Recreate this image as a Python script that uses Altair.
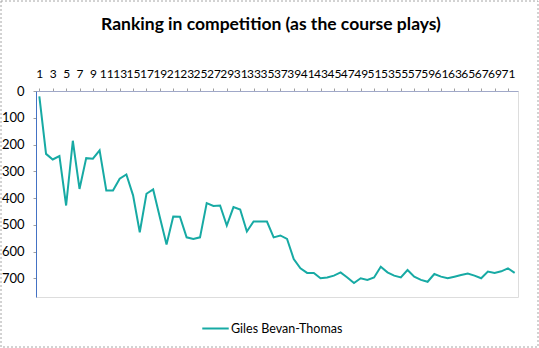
import altair as alt
import pandas as pd

rounds = list(range(1, 73))
ranking = [20, 235, 256, 243, 428, 186, 366, 251, 253, 222,
           372, 372, 328, 312, 390, 528, 384, 368, 472, 574,
           469, 470, 547, 553, 547, 419, 430, 428, 503, 434,
           443, 525, 488, 488, 488, 547, 540, 553, 628, 663,
           680, 680, 700, 697, 690, 678, 697, 718, 700, 706,
           697, 657, 678, 690, 697, 669, 694, 706, 713, 684,
           694, 700, 694, 688, 682, 690, 700, 675, 680, 674,
           663, 680]
series_name = "Giles Bevan-Thomas"
x_labels = list(range(1, 72, 2))
y_ticks = [0, 100, 200, 300, 400, 500, 600, 700]

df = pd.DataFrame({"round": rounds, "rank": ranking, "player": series_name})

FONT = "Lato"
W, H = 482, 206

line = alt.Chart(df).mark_line(strokeWidth=2, clip=True).encode(
    x=alt.X("round:Q",
            scale=alt.Scale(domain=[0.5, 72.5], nice=False, zero=False),
            axis=alt.Axis(orient="top", values=x_labels, title=None,
                          labelOverlap=False, labelFont=FONT, labelFontSize=12,
                          labelColor="#000000", labelPadding=8,
                          tickSize=3, tickColor="#a0a0a0",
                          domainColor="#a0a8c8", grid=False, format="d",
                          labelFlush=False)),
    y=alt.Y("rank:Q",
            scale=alt.Scale(domain=[0, 770], reverse=True, nice=False),
            axis=alt.Axis(values=y_ticks, title=None, labelFont=FONT,
                          labelFontSize=13, labelColor="#000000",
                          tickSize=3, tickColor="#a0a0a0",
                          domainColor="#4472c4", grid=False, labelPadding=9)),
    color=alt.Color("player:N",
                    scale=alt.Scale(domain=[series_name], range=["#17aaa4"]),
                    legend=alt.Legend(title=None, orient="none",
                                      legendX=165, legendY=223,
                                      symbolType="stroke", symbolSize=700,
                                      symbolStrokeWidth=2,
                                      labelFont=FONT, labelFontSize=12.5,
                                      labelColor="#000000", labelOffset=1)),
)

border = alt.Chart(pd.DataFrame({"a": [0]})).mark_rect(
    fill=None, stroke="#a6a6a6", strokeWidth=1, strokeDash=[2, 2], clip=False
).encode(x=alt.value(-35), x2=alt.value(W + 20),
         y=alt.value(-90), y2=alt.value(H + 50))

chart = alt.layer(border, line).properties(
    width=W, height=H,
    title=alt.TitleParams("Ranking in competition (as the course plays)",
                          font=FONT, fontSize=17.5, fontWeight="bold",
                          color="#000000", anchor="middle", offset=-27,
                          baseline="alphabetic", dy=20, dx=-6),
    autosize=alt.AutoSizeParams(type="none"),
    padding={"left": 36, "top": 91, "right": 21, "bottom": 51},
).configure_view(stroke="#4472c4", strokeWidth=1).configure(background="white")

chart.save("out.html", embed_options={"renderer": "svg", "actions": False})
